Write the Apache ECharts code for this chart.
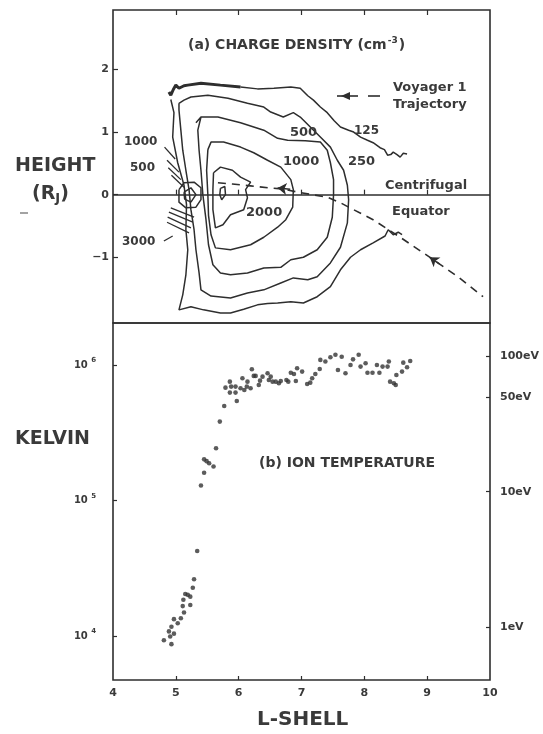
<!DOCTYPE html>
<html>
<head>
<meta charset="utf-8">
<style>
  html, body { margin: 0; padding: 0; background: #fff; }
  #chart { width: 543px; height: 734px; }
</style>
<script src="https://cdn.jsdelivr.net/npm/echarts@6/dist/echarts.min.js"></script>
</head>
<body>
<div id="chart"></div>
<script>
// (a) charge density contours, [L-shell, height in R_J]
const c125Thick = [[4.89, 1.64], [4.92, 1.59], [4.96, 1.68], [5.00, 1.75], [5.05, 1.70], [5.08, 1.70], [5.13, 1.74], [5.19, 1.75], [5.40, 1.78], [5.71, 1.75], [6.03, 1.72]]
const c125Upper = [[6.03, 1.72], [6.30, 1.69], [6.56, 1.70], [6.83, 1.72], [6.98, 1.70], [7.10, 1.58], [7.19, 1.51], [7.30, 1.40], [7.41, 1.31], [7.52, 1.18], [7.62, 1.08], [7.75, 1.03], [7.83, 1.00], [7.94, 0.92], [8.05, 0.87], [8.14, 0.83], [8.25, 0.75], [8.32, 0.72], [8.37, 0.63], [8.42, 0.64], [8.46, 0.68], [8.52, 0.64], [8.57, 0.60], [8.62, 0.66], [8.68, 0.65]]
const c125Lower = [[4.92, 1.52], [4.97, 1.31], [4.95, 0.92], [5.03, 0.51], [5.13, 0.15], [5.17, -0.16], [5.16, -0.56], [5.19, -0.88], [5.16, -1.28], [5.11, -1.60], [5.05, -1.84], [5.24, -1.79], [5.44, -1.84], [5.71, -1.89], [5.87, -1.89], [6.08, -1.83], [6.30, -1.76], [6.46, -1.74], [6.62, -1.73], [6.83, -1.71], [7.03, -1.73], [7.25, -1.63], [7.46, -1.47], [7.62, -1.20], [7.78, -1.00], [7.94, -0.88], [8.14, -0.77], [8.33, -0.66], [8.38, -0.56], [8.46, -0.64], [8.54, -0.60], [8.60, -0.64]]
const c250 = [[5.05, 1.46], [5.13, 1.51], [5.24, 1.56], [5.51, 1.59], [5.83, 1.54], [6.14, 1.46], [6.40, 1.40], [6.51, 1.32], [6.71, 1.24], [6.87, 1.31], [6.98, 1.24], [7.14, 1.08], [7.30, 0.92], [7.46, 0.76], [7.57, 0.55], [7.67, 0.39], [7.73, 0.15], [7.75, -0.08], [7.73, -0.45], [7.62, -0.84], [7.46, -1.09], [7.25, -1.31], [7.10, -1.36], [6.87, -1.33], [6.67, -1.41], [6.40, -1.52], [6.14, -1.57], [5.87, -1.65], [5.56, -1.62], [5.40, -1.52], [5.37, -1.25], [5.32, -0.88], [5.29, -0.56], [5.24, -0.24], [5.21, 0.08], [5.16, 0.39], [5.11, 0.71], [5.08, 1.03], [5.05, 1.35], [5.05, 1.46]]
const c500 = [[5.32, 1.15], [5.40, 1.24], [5.67, 1.24], [6.03, 1.15], [6.40, 1.03], [6.62, 0.90], [6.78, 0.87], [7.06, 0.86], [7.30, 0.84], [7.41, 0.71], [7.46, 0.51], [7.51, 0.24], [7.51, 0.00], [7.49, -0.36], [7.41, -0.68], [7.25, -0.88], [7.03, -1.00], [6.83, -1.04], [6.67, -1.16], [6.40, -1.17], [6.14, -1.25], [5.87, -1.28], [5.71, -1.25], [5.59, -1.12], [5.52, -0.80], [5.48, -0.40], [5.43, 0.00], [5.40, 0.39], [5.37, 0.71], [5.35, 1.03], [5.40, 1.24]]
const c1000 = [[5.51, 0.72], [5.56, 0.84], [5.76, 0.84], [6.03, 0.76], [6.24, 0.67], [6.46, 0.55], [6.67, 0.44], [6.83, 0.24], [6.87, 0.08], [6.86, -0.20], [6.75, -0.40], [6.62, -0.52], [6.40, -0.68], [6.19, -0.80], [5.87, -0.88], [5.63, -0.85], [5.56, -0.64], [5.52, -0.33], [5.51, -0.01], [5.49, 0.39], [5.51, 0.72]]
const c2000 = [[5.60, 0.35], [5.71, 0.44], [5.90, 0.39], [6.03, 0.28], [6.19, 0.20], [6.11, 0.08], [6.14, -0.05], [6.08, -0.24], [5.87, -0.32], [5.75, -0.48], [5.63, -0.53], [5.59, -0.24], [5.59, 0.08], [5.60, 0.35]]
const c2000Core = [[5.71, 0.10], [5.78, 0.13], [5.79, 0.00], [5.73, -0.08], [5.70, 0.00], [5.71, 0.10]]
const c3000Outer = [[5.05, 0.08], [5.13, 0.19], [5.29, 0.20], [5.40, 0.11], [5.40, -0.08], [5.32, -0.20], [5.16, -0.21], [5.05, -0.12], [5.05, 0.08]]
const c3000Inner = [[5.13, 0.04], [5.24, 0.11], [5.32, 0.00], [5.24, -0.12], [5.14, -0.07], [5.13, 0.04]]
// short packed contours / leaders near L = 5
const hatchSegments = [
  [[4.82, 0.76], [4.99, 0.57]],
  [[4.86, 0.55], [5.05, 0.36]],
  [[4.88, 0.43], [5.08, 0.24]],
  [[4.93, 0.31], [5.13, 0.12]],
  [[4.92, -0.21], [5.29, -0.36]],
  [[4.89, -0.28], [5.27, -0.44]],
  [[4.87, -0.36], [5.24, -0.53]],
  [[4.86, -0.44], [5.21, -0.61]],
  [[4.81, -0.74], [4.95, -0.66]]
]
const trajectory = [[5.67, 0.19], [5.90, 0.17], [6.19, 0.14], [6.47, 0.11], [6.71, 0.09], [6.94, 0.04], [7.17, 0.00], [7.41, -0.04], [7.62, -0.13], [7.83, -0.24], [8.14, -0.40], [8.57, -0.68], [9.10, -1.04], [9.50, -1.32], [9.89, -1.63]]
const trajectoryArrows = [
  [[6.82, 0.085], [6.62, 0.105]],
  [[9.20, -1.11], [9.04, -1.00]]
]
const heightTicks = [-1, 0, 1, 2]

// (b) ion temperature
const tempLShell = [5.86, 5.79, 5.88, 5.95, 5.86, 5.95, 6.03, 6.09, 6.06, 6.14, 6.13, 6.19, 6.21, 6.24, 6.27, 6.32, 6.34, 6.38, 6.46, 6.48, 6.51, 6.54, 6.59, 6.64, 6.67, 6.76, 6.79, 6.83, 6.88, 6.91, 6.93, 7.01, 7.09, 7.14, 7.17, 7.22, 7.29, 7.30, 7.38, 7.46, 7.54, 7.64, 7.58, 7.70, 7.78, 7.82, 7.91, 7.94, 8.02, 8.05, 8.13, 8.20, 8.24, 8.29, 8.37, 8.39, 8.41, 8.47, 8.50, 8.51, 8.60, 8.62, 8.68, 8.73,
  5.97, 5.77, 5.70, 5.64, 5.45, 5.49, 5.53, 5.60, 5.45, 5.40,
  5.34, 5.29, 5.27, 5.15, 5.19, 5.23, 5.23, 5.12, 5.11, 5.13, 5.03, 4.97, 5.08, 4.93, 4.89, 4.97, 4.91, 4.81, 4.93]
const tempKelvin = [7.53e5, 6.80e5, 6.92e5, 6.92e5, 6.25e5, 6.25e5, 6.73e5, 6.54e5, 7.98e5, 7.53e5, 6.92e5, 6.73e5, 9.29e5, 8.30e5, 8.30e5, 7.12e5, 7.66e5, 8.20e5, 8.69e5, 7.74e5, 8.20e5, 7.53e5, 7.53e5, 7.32e5, 7.62e5, 7.74e5, 7.53e5, 8.77e5, 8.58e5, 7.62e5, 9.46e5, 8.93e5, 7.24e5, 7.40e5, 7.98e5, 8.58e5, 9.34e5, 1.09e6, 1.06e6, 1.14e6, 1.19e6, 1.15e6, 9.18e5, 8.69e5, 1.00e6, 1.10e6, 1.19e6, 9.72e5, 1.03e6, 8.77e5, 8.77e5, 1.00e6, 8.77e5, 9.72e5, 9.72e5, 1.06e6, 7.53e5, 7.32e5, 7.12e5, 8.44e5, 8.93e5, 1.04e6, 9.62e5, 1.07e6,
  5.42e5, 4.98e5, 3.82e5, 2.43e5, 2.01e5, 1.95e5, 1.88e5, 1.78e5, 1.60e5, 1.29e5,
  4.24e4, 2.62e4, 2.27e4, 2.04e4, 2.01e4, 1.95e4, 1.69e4, 1.85e4, 1.66e4, 1.49e4, 1.24e4, 1.33e4, 1.35e4, 1.17e4, 1.08e4, 1.04e4, 9.9e3, 9.3e3, 8.7e3]
const kelvinTicks = [1e4, 1e5, 1e6]
const evTicks = [1, 10, 50, 100]
const lshellTicks = [4, 5, 6, 7, 8, 9, 10]

const KELVIN_PER_EV = 11604.5
const T_MIN = 4730
const T_MAX = 2040000

const ink = '#2e2e2e'
const textInk = '#3a3a3a'
const font = '"DejaVu Sans", sans-serif'

const chart = echarts.init(document.getElementById('chart'))

function contour(data, width) {
  return {
    type: 'line',
    xAxisIndex: 0,
    yAxisIndex: 0,
    data: data,
    symbol: 'none',
    silent: true,
    lineStyle: { color: ink, width: width || 1.5 },
    z: 3
  }
}

function label(text, x, y, size, weight) {
  return {
    type: 'text',
    x: x,
    y: y,
    style: {
      text: text,
      fill: textInk,
      font: (weight || 'bold') + ' ' + (size || 13) + 'px ' + font,
      verticalAlign: 'middle'
    },
    z: 10
  }
}

const tickStyle = { color: ink, width: 1.2 }
const tickFont = { color: textInk, fontFamily: font, fontWeight: 'bold', fontSize: 11 }

const option = {
  animation: false,
  backgroundColor: '#fff',
  grid: [
    { left: 113, right: 53, top: 10, height: 313, show: true, borderColor: ink, borderWidth: 1.6, backgroundColor: 'transparent' },
    { left: 113, right: 53, top: 323, height: 357, show: true, borderColor: ink, borderWidth: 1.6, backgroundColor: 'transparent' }
  ],
  xAxis: [
    {
      gridIndex: 0, type: 'value', min: 4, max: 10, position: 'bottom',
      axisLine: { show: false },
      axisTick: { inside: true, length: 5, customValues: lshellTicks.slice(1, -1), lineStyle: tickStyle },
      axisLabel: { show: false },
      splitLine: { show: false }
    },
    {
      gridIndex: 0, type: 'value', min: 4, max: 10, position: 'top',
      axisLine: { show: false },
      axisTick: { inside: true, length: 5, customValues: lshellTicks.slice(1, -1), lineStyle: tickStyle },
      axisLabel: { show: false },
      splitLine: { show: false }
    },
    {
      gridIndex: 1, type: 'value', min: 4, max: 10, position: 'bottom',
      axisLine: { show: false },
      axisTick: { inside: true, length: 4, customValues: lshellTicks.slice(1, -1), lineStyle: tickStyle },
      axisLabel: Object.assign({ customValues: lshellTicks, margin: 8 }, tickFont),
      splitLine: { show: false }
    }
  ],
  yAxis: [
    {
      gridIndex: 0, type: 'value', min: -2.05, max: 2.95,
      axisLine: { show: false },
      axisTick: { inside: true, length: 5, customValues: heightTicks, lineStyle: tickStyle },
      axisLabel: Object.assign({
        customValues: heightTicks, margin: 4,
        formatter: v => String(v).replace('-', '\u2212')
      }, tickFont),
      splitLine: { show: false }
    },
    {
      gridIndex: 1, type: 'log', logBase: 10, min: T_MIN, max: T_MAX,
      axisLine: { show: false },
      axisTick: { inside: true, length: 4, customValues: kelvinTicks, lineStyle: tickStyle },
      axisLabel: {
        customValues: kelvinTicks, margin: 17,
        formatter: v => '{b|10} {s|' + Math.round(Math.log10(v)) + '}',
        rich: {
          b: { color: textInk, fontFamily: font, fontWeight: 'bold', fontSize: 10 },
          s: { color: textInk, fontFamily: font, fontWeight: 'bold', fontSize: 7, padding: [0, 0, 9, 0] }
        }
      },
      splitLine: { show: false }
    },
    {
      gridIndex: 1, type: 'log', logBase: 10, position: 'right',
      min: T_MIN / KELVIN_PER_EV, max: T_MAX / KELVIN_PER_EV,
      axisLine: { show: false },
      axisTick: { inside: true, length: 4, customValues: evTicks, lineStyle: tickStyle },
      axisLabel: Object.assign({
        customValues: evTicks, margin: 10,
        formatter: v => v + 'eV'
      }, tickFont),
      splitLine: { show: false }
    }
  ],
  series: [
    contour(c125Thick, 3),
    contour(c125Upper),
    contour(c125Lower),
    contour(c250),
    contour(c500),
    contour(c1000),
    contour(c2000),
    contour(c2000Core),
    contour(c3000Outer),
    contour(c3000Inner),
    {
      type: 'lines',
      coordinateSystem: 'cartesian2d',
      xAxisIndex: 0,
      yAxisIndex: 0,
      silent: true,
      data: hatchSegments.map(s => ({ coords: s })),
      lineStyle: { color: ink, width: 1.3, opacity: 1 },
      z: 3
    },
    {
      // Voyager 1 trajectory, with the centrifugal equator
      type: 'line',
      xAxisIndex: 0,
      yAxisIndex: 0,
      data: trajectory,
      symbol: 'none',
      silent: true,
      lineStyle: { color: ink, width: 1.6, type: [8, 6] },
      markLine: {
        silent: true,
        symbol: 'none',
        label: { show: false },
        lineStyle: { color: ink, width: 1.5, type: 'solid' },
        data: [{ yAxis: 0 }]
      },
      z: 4
    },
    {
      type: 'lines',
      coordinateSystem: 'cartesian2d',
      xAxisIndex: 0,
      yAxisIndex: 0,
      silent: true,
      symbol: ['none', 'arrow'],
      symbolSize: 9,
      data: trajectoryArrows.map(s => ({ coords: s })),
      lineStyle: { color: ink, width: 1.5, opacity: 1 },
      z: 5
    },
    {
      type: 'scatter',
      xAxisIndex: 2,
      yAxisIndex: 1,
      data: tempLShell.map((l, i) => [l, tempKelvin[i]]),
      symbol: 'circle',
      symbolSize: 4.6,
      silent: true,
      itemStyle: { color: '#333' }
    }
  ],
  graphic: [
    {
      type: 'text', x: 188, y: 45, z: 10,
      style: {
        text: '{t|(a) CHARGE DENSITY (cm}{s|-3}{t|)}',
        verticalAlign: 'middle',
        rich: {
          t: { fill: textInk, font: 'bold 14px ' + font },
          s: { fill: textInk, font: 'bold 9px ' + font, padding: [0, 1, 8, 1] }
        }
      }
    },
    label('Voyager 1', 393, 88, 13),
    label('Trajectory', 393, 105, 13),
    { type: 'line', z: 10, shape: { x1: 337, y1: 96, x2: 358, y2: 96 }, style: { stroke: ink, lineWidth: 1.6 } },
    { type: 'polygon', z: 10, shape: { points: [[341, 96], [350, 92], [350, 100]] }, style: { fill: ink } },
    { type: 'line', z: 10, shape: { x1: 368, y1: 96, x2: 380, y2: 96 }, style: { stroke: ink, lineWidth: 1.6 } },
    label('125', 354, 131, 12),
    label('250', 348, 162, 13, '900'),
    label('500', 290, 133, 13),
    label('1000', 283, 162, 13),
    label('2000', 246, 213, 13),
    label('1000', 124, 142, 12),
    label('500', 130, 168, 12),
    label('3000', 122, 242, 12),
    label('Centrifugal', 385, 186, 13),
    label('Equator', 392, 212, 13),
    label('HEIGHT', 15, 166, 19),
    {
      type: 'text', x: 32, y: 194, z: 10,
      style: {
        text: '{a|(R}{j|J}{a|)}',
        verticalAlign: 'middle',
        rich: {
          a: { fill: textInk, font: 'bold 19px ' + font },
          j: { fill: textInk, font: 'bold 13px ' + font, padding: [10, 0, 0, 0] }
        }
      }
    },
    { type: 'line', z: 10, shape: { x1: 20, y1: 213, x2: 28, y2: 213 }, style: { stroke: '#666', lineWidth: 1.2 } },
    label('KELVIN', 15, 439, 19),
    label('(b) ION TEMPERATURE', 259, 463, 14),
    label('L-SHELL', 257, 720, 20)
  ]
}

chart.setOption(option)
</script>
</body>
</html>
